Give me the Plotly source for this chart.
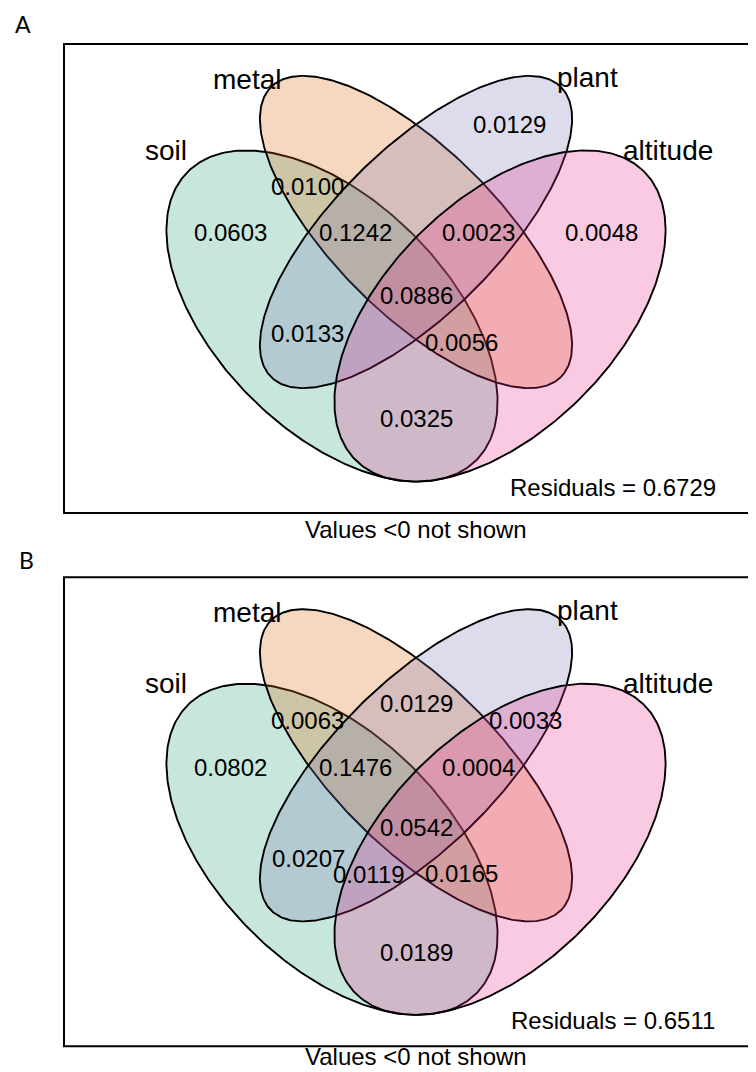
import numpy as np
import plotly.graph_objects as go

# ---------------- data ----------------
set_names = ["soil", "metal", "plant", "altitude"]
set_colors = ["#1B9E77", "#D95F02", "#7570B3", "#E7298A"]  # filled with alpha 63/255
panel_letters = ["A", "B"]

region_keys = ["soil", "metal", "plant", "altitude",
               "soil+metal", "metal+plant", "plant+altitude",
               "soil+metal+plant", "metal+plant+altitude", "all",
               "soil+plant", "soil+plant+altitude", "soil+metal+altitude",
               "soil+altitude"]
values_A = [0.0603, None, 0.0129, 0.0048,
            0.0100, None, None,
            0.1242, 0.0023, 0.0886,
            0.0133, None, 0.0056,
            0.0325]
values_B = [0.0802, None, None, None,
            0.0063, 0.0129, 0.0033,
            0.1476, 0.0004, 0.0542,
            0.0207, 0.0119, 0.0165,
            0.0189]
residuals = [0.6729, 0.6511]
footnote = "Values <0 not shown"

# ---------------- layout / geometry (page pixels) ----------------
W, H = 756, 1072
PAGE_MARGIN = 8  # default body margin of the html page
panel_offsets = [0.0, 533.3]
box = dict(x0=64, x1=768, y0=44, y1=513)
# ellipses: center x, center y, semi-major, semi-minor, angle (deg, screen coords)
ellipses = [
    (332, 316, 204, 115, 45),
    (416, 232, 205, 82, 45),
    (416, 232, 205, 82, -45),
    (500, 316, 204, 115, -45),
]
set_label_pos = [(165.5, 150), (246.5, 79), (587, 77), (667.5, 150)]
region_pos_A = {
    "soil": (230.5, 232), "metal": (330, 105), "plant": (509, 124), "altitude": (601.5, 232),
    "soil+metal": (307, 186), "metal+plant": (416, 170), "plant+altitude": (525, 187),
    "soil+metal+plant": (355, 232), "metal+plant+altitude": (478.5, 232), "all": (416, 295),
    "soil+plant": (307.5, 333), "soil+plant+altitude": (369, 341),
    "soil+metal+altitude": (461.5, 342), "soil+altitude": (416, 418),
}
region_pos_B = dict(region_pos_A)
region_pos_B.update({"soil": (230.5, 234), "soil+metal": (307, 187), "soil+metal+plant": (355, 234),
                     "metal+plant+altitude": (478.5, 234), "all": (416, 294), "soil+plant": (308, 325),
                     "soil+metal+altitude": (461.5, 340), "soil+altitude": (416, 419)})
resid_pos = (613, 487)
foot_pos = [(415.5, 529), (415.5, 523.5)]
letter_pos = [(23, 24), (26, 560)]

NUM_FONT = dict(family="Liberation Sans, Arial, sans-serif", size=24, color="black")
LAB_FONT = dict(family="Liberation Sans, Arial, sans-serif", size=28, color="black")
LET_FONT = dict(family="Lato, Open Sans, sans-serif", size=23, color="black")


def hex_rgba(h, a):
    h = h.lstrip("#")
    return "rgba(%d,%d,%d,%.3f)" % (int(h[0:2], 16), int(h[2:4], 16), int(h[4:6], 16), a)


fig = go.Figure()
annotations = []
shapes = []
t = np.linspace(0, 2 * np.pi, 361)

for p, (off, vals, rpos) in enumerate(zip(panel_offsets, [values_A, values_B], [region_pos_A, region_pos_B])):
    shapes.append(dict(type="rect", xref="x", yref="y", x0=box["x0"], x1=box["x1"],
                       y0=box["y0"] + off, y1=box["y1"] + off,
                       line=dict(color="black", width=2), fillcolor="rgba(0,0,0,0)", layer="above"))
    for (cx, cy, a, b, ang), col in zip(ellipses, set_colors):
        th = np.deg2rad(ang)
        ex = cx + a * np.cos(t) * np.cos(th) - b * np.sin(t) * np.sin(th)
        ey = cy + off + a * np.cos(t) * np.sin(th) + b * np.sin(t) * np.cos(th)
        fig.add_trace(go.Scatter(x=ex, y=ey, mode="lines", fill="toself",
                                 fillcolor=hex_rgba(col, 63 / 255),
                                 line=dict(color="black", width=1.9),
                                 hoverinfo="skip", showlegend=False))
    for name, (lx, ly) in zip(set_names, set_label_pos):
        annotations.append(dict(x=lx, y=ly + off, text=name, showarrow=False, font=LAB_FONT,
                                xanchor="center", yanchor="middle"))
    for key, v in zip(region_keys, vals):
        if v is None or v < 0:
            continue
        x, y = rpos[key]
        annotations.append(dict(x=x, y=y + off, text="%.4f" % v, showarrow=False, font=NUM_FONT,
                                xanchor="center", yanchor="middle"))
    annotations.append(dict(x=resid_pos[0], y=resid_pos[1] + off, text="Residuals = %.4f" % residuals[p],
                            showarrow=False, font=NUM_FONT, xanchor="center", yanchor="middle"))
    annotations.append(dict(x=foot_pos[p][0], y=foot_pos[p][1] + off, text=footnote,
                            showarrow=False, font=NUM_FONT, xanchor="center", yanchor="middle"))
    annotations.append(dict(x=letter_pos[p][0], y=letter_pos[p][1], text=panel_letters[p],
                            showarrow=False, font=LET_FONT, xanchor="center", yanchor="middle"))

# the figure sits PAGE_MARGIN px inside the page, so its axes start at that page pixel
fig.update_layout(
    width=W - PAGE_MARGIN, height=H - PAGE_MARGIN, margin=dict(l=0, r=0, t=0, b=0),
    paper_bgcolor="white", plot_bgcolor="white",
    xaxis=dict(range=[PAGE_MARGIN, W], visible=False, fixedrange=True),
    yaxis=dict(range=[H, PAGE_MARGIN], visible=False, fixedrange=True),
    shapes=shapes, annotations=annotations, showlegend=False,
)
fig.write_html("out.html")
